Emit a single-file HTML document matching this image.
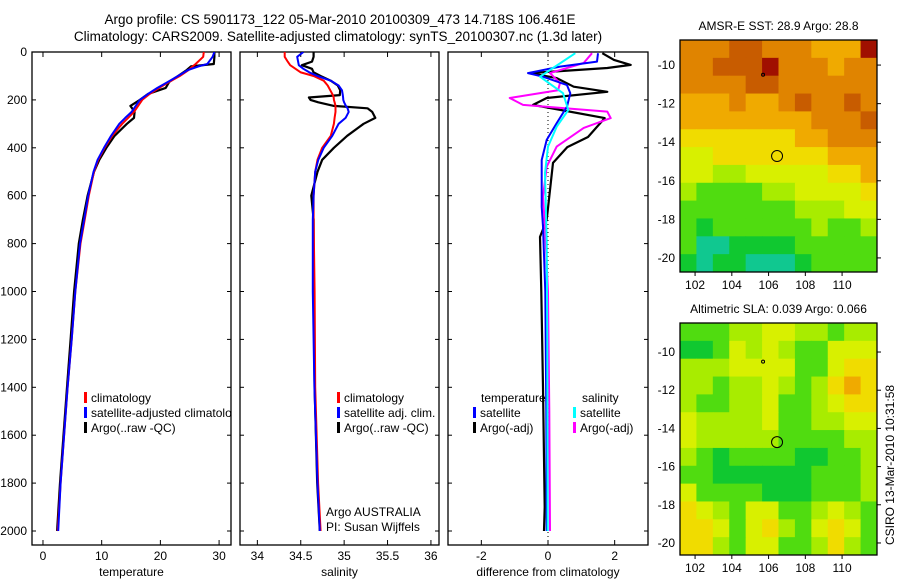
<!DOCTYPE html>
<html><head><meta charset="utf-8"><style>
body{margin:0;background:#fff}
svg{font-family:"Liberation Sans",sans-serif;font-size:12px}
</style></head><body>
<svg id="fig" width="900" height="580" xmlns="http://www.w3.org/2000/svg">
<rect width="900" height="580" fill="#fff"/>
<text x="340" y="24" text-anchor="middle" font-size="13.5">Argo profile: CS 5901173_122 05-Mar-2010 20100309_473 14.718S 106.461E</text>
<text x="338" y="41" text-anchor="middle" font-size="13.5">Climatology: CARS2009. Satellite-adjusted climatology: synTS_20100307.nc (1.3d later)</text>
<text transform="translate(894,465) rotate(-90)" text-anchor="middle" font-size="12">CSIRO 13-Mar-2010 10:31:58</text>
<g id="plots"></g>
</svg>
<script>
// ---------- profile data ----------
const tDepth=[0,20,50,60,75,100,125,150,175,200,225,250,275,300,350,400,450,500,600,700,800,1000,1200,1400,1600,1800,2000];
const tempClim=[27.4,27.3,26,25.5,24.8,23.3,21.5,19.8,18.2,16.9,16.2,15.5,14.5,13.5,11.8,10.5,9.4,8.7,7.8,7.1,6.4,5.5,4.9,4.2,3.6,3.0,2.5];
const tempSat=[29.2,28.9,28,26.5,24.7,23,21.3,19.5,17.9,16.5,15.8,15.1,14,13,11.6,10.4,9.3,8.6,7.7,7.0,6.3,5.5,4.9,4.2,3.6,3.0,2.6];
const tempArgo=[29.2,29.2,29.1,25.2,24.5,23,21.5,20.9,17.9,16.5,14.9,15.6,15.5,14.3,12.2,10.8,9.6,8.7,7.6,6.8,6.1,5.3,4.7,4.1,3.5,2.9,2.4];
const sDepth=[0,20,40,55,70,85,100,120,140,160,180,190,200,210,225,235,250,275,300,350,400,450,500,600,700,1000,1400,1800,2000];
const salClim=[34.315,34.315,34.35,34.378,34.44,34.5,34.648,34.765,34.81,34.84,34.87,34.88,34.882,34.89,34.9,34.9,34.9,34.89,34.882,34.846,34.747,34.693,34.666,34.648,34.648,34.66,34.666,34.70,34.729];
const salSat=[34.531,34.459,34.47,34.477,34.53,34.6,34.693,34.846,34.936,34.975,34.985,34.988,34.99,35.0,35.02,35.04,35.053,35.017,34.936,34.864,34.765,34.702,34.666,34.648,34.639,34.639,34.657,34.693,34.72];
const salArgo=[34.648,34.648,34.63,34.513,34.63,34.648,34.729,34.846,34.927,34.954,34.95,34.594,34.612,34.702,34.882,35.269,35.323,35.359,35.224,35.035,34.882,34.747,34.693,34.621,34.648,34.648,34.66,34.69,34.72];
const dDepthT=[5,33,54,67,88,109,145,166,192,221,234,276,355,397,463,576,701,772,1000,1400,1900,2000];
const diffTempArgo=[1.63,1.98,2.48,1.78,-0.55,0.26,0.77,1.78,-0.04,-0.45,0.06,1.7,1.2,0.58,0.15,0.06,-0.04,-0.24,-0.2,-0.15,-0.1,-0.12];
const dDepthTS=[5,40,61,88,103,138,172,228,297,367,451,646,729,1000,1500,2000];
const diffTempSat=[1.5,1.47,0.36,-0.6,-0.15,0.57,0.67,0.57,0.26,-0.04,-0.19,-0.19,-0.15,-0.08,-0.05,-0.04];
const dDepthS=[5,46,88,130,160,192,221,249,276,317,395,479,604,729,1000,1500,2000];
const diffSalArgo=[1.32,1.07,0.06,0.36,0.3,-1.15,-0.75,1.78,1.88,1.07,0.26,-0.04,-0.15,-0.09,0.0,0.04,0.06];
const dDepthSS=[5,75,103,172,242,312,395,506,785,1200,2000];
const diffSalSat=[0.82,0.06,-0.24,0.45,0.61,0.26,0,-0.09,-0.04,-0.02,-0.01];
// ---------- map data (colour class 0 teal .. 9 dark red) ----------
const lonRange=[101.18,111.9];
const sstTitle="AMSR-E SST: 28.9 Argo: 28.8";
const sstGrid=[
[7,7,7,8,8,7,7,7,6,6,6,9],
[7,7,8,8,8,9,7,7,7,6,7,7],
[7,7,7,7,8,8,7,7,7,7,7,7],
[6,6,6,7,6,6,7,8,7,7,8,7],
[6,6,6,6,6,6,6,6,7,7,7,8],
[5,5,5,5,5,5,5,6,6,7,7,7],
[4,4,5,5,5,5,5,5,5,6,6,6],
[4,4,3,3,4,4,4,4,4,5,5,6],
[3,2,2,2,2,3,3,4,4,4,4,5],
[2,2,2,2,2,2,2,3,3,3,4,4],
[2,1,2,2,2,2,2,2,3,2,2,3],
[2,0,0,1,1,1,1,2,2,2,2,2],
[1,0,1,1,0,0,0,1,2,2,2,2]];
const slaTitle="Altimetric SLA: 0.039 Argo: 0.066";
const slaGrid=[
[2,2,2,3,3,4,4,3,3,2,3,3],
[1,1,2,4,3,4,3,2,2,4,4,4],
[3,3,3,4,4,4,4,2,2,4,5,5],
[3,3,2,3,3,4,3,2,3,5,6,5],
[3,2,2,3,3,4,2,2,3,4,5,5],
[4,3,3,3,3,4,2,2,3,3,4,4],
[4,3,3,3,3,3,2,2,2,2,3,3],
[3,2,1,2,2,2,2,1,1,2,2,3],
[2,2,1,1,1,1,1,1,2,2,2,3],
[4,2,2,2,2,1,1,1,2,2,2,3],
[5,4,3,2,4,4,2,2,3,4,3,2],
[5,5,4,2,4,5,3,2,4,5,4,2],
[5,5,3,2,4,4,2,2,3,5,3,2]];
const argoLon=106.461, argoLat=-14.718;
const prevLon=105.7, prevLat=-10.5;
const palette=["#10c890","#10c830","#50dc10","#a8ec00","#d8f000","#f0dc00","#f0aa00","#e08400","#c85c00","#a01000"];

const NS="http://www.w3.org/2000/svg";
const root=document.getElementById('plots');
function mk(tag,attrs,parent){const e=document.createElementNS(NS,tag);for(const k in attrs)e.setAttribute(k,attrs[k]);(parent||root).appendChild(e);return e;}
function txt(x,y,s,anchor,parent){const t=mk('text',{x:x,y:y,'text-anchor':anchor||'start'},parent);t.textContent=s;return t;}

const top0=52, bot=545;
const yDepth=d=>top0+d*0.2395;
const depthTicks=[0,200,400,600,800,1000,1200,1400,1600,1800,2000];

function panel(name,x0,x1,xmin,xmax,xticks,xlabel,showY){
  const g=mk('g',{});
  
  
  const sx=v=>x0+(v-xmin)/(xmax-xmin)*(x1-x0);
  const clipId=name+'-clip';
  const cp=mk('clipPath',{id:clipId},g);mk('rect',{x:x0,y:top0,width:x1-x0,height:bot-top0},cp);
  mk('rect',{x:x0,y:top0,width:x1-x0,height:bot-top0,fill:'none',stroke:'#000','stroke-width':1.3},g);
  for(const d of depthTicks){const y=yDepth(d);
    mk('line',{x1:x0,y1:y,x2:x0+4,y2:y,stroke:'#000'},g);mk('line',{x1:x1-4,y1:y,x2:x1,y2:y,stroke:'#000'},g);
    if(showY){const t=txt(27,y+4,String(d),'end',g);}}
  for(const v of xticks){const x=sx(v);
    mk('line',{x1:x,y1:top0,x2:x,y2:top0+5,stroke:'#000'},g);mk('line',{x1:x,y1:bot-5,x2:x,y2:bot,stroke:'#000'},g);
    const t=txt(x,560,String(v),'middle',g);}
  const xl=txt((x0+x1)/2,576,xlabel,'middle',g);
  const inner=mk('g',{'clip-path':'url(#'+clipId+')'},g);
  return {g,sx,inner};
}
function line(p,depths,vals,color,w,name){
  const pts=depths.map((d,i)=>p.sx(vals[i]).toFixed(1)+','+yDepth(d).toFixed(1)).join(' ');
  const l=mk('polyline',{points:pts,fill:'none',stroke:color,'stroke-width':w,'stroke-linejoin':'round'},p.inner);
  
  
}
function legendEntry(g,x,y,color,label){
  if(color) mk('rect',{x:x,y:y-10,width:3,height:11,fill:color},g);
  const t=txt(x+(color?7:0),y,label,'start',g);
  
  
}

const p1=panel('temperature-panel',32,231,-1.87,32.03,[0,10,20,30],'temperature',true);
line(p1,tDepth,tempArgo,'#000',2.2,'temp-argo-line');
line(p1,tDepth,tempClim,'#f00',2,'temp-climatology-line');
line(p1,tDepth,tempSat,'#00f',2,'temp-satellite-line');
legendEntry(p1.inner,84,402,'#f00','climatology');
legendEntry(p1.inner,84,417,'#00f','satellite-adjusted climatology');
legendEntry(p1.inner,84,432,'#000','Argo(..raw -QC)');

const p2=panel('salinity-panel',240,439,33.8,36.093,[34,34.5,35,35.5,36],'salinity',false);
line(p2,sDepth,salArgo,'#000',2.2,'sal-argo-line');
line(p2,sDepth,salClim,'#f00',2,'sal-climatology-line');
line(p2,sDepth,salSat,'#00f',2,'sal-satellite-line');
legendEntry(p2.inner,337,402,'#f00','climatology');
legendEntry(p2.inner,337,417,'#00f','satellite adj. clim.');
legendEntry(p2.inner,337,432,'#000','Argo(..raw -QC)');
legendEntry(p2.inner,326,516,null,'Argo AUSTRALIA');
legendEntry(p2.inner,326,531,null,'PI: Susan Wijffels');

const p3=panel('difference-panel',448,648,-3.0,3.0,[-2,0,2],'difference from climatology',false);
mk('line',{x1:p3.sx(0),y1:top0,x2:p3.sx(0),y2:bot,stroke:'#000','stroke-dasharray':'1,3'},p3.inner);
line(p3,dDepthT,diffTempArgo,'#000',2.2,'diff-temp-argo-line');
line(p3,dDepthS,diffSalArgo,'#f0f',2,'diff-sal-argo-line');
line(p3,dDepthTS,diffTempSat,'#00f',2,'diff-temp-satellite-line');
line(p3,dDepthSS,diffSalSat,'#0ff',2,'diff-sal-satellite-line');
legendEntry(p3.inner,481,402,null,'temperature');
legendEntry(p3.inner,473,417,'#00f','satellite');
legendEntry(p3.inner,473,432,'#000','Argo(-adj)');
legendEntry(p3.inner,582,402,null,'salinity');
legendEntry(p3.inner,573,417,'#0ff','satellite');
legendEntry(p3.inner,573,432,'#f0f','Argo(-adj)');

function map(name,grid,title,x0,x1,y0,y1,latTop,latBot){
  const g=mk('g',{});
  
  
  const sx=lon=>x0+(lon-lonRange[0])/(lonRange[1]-lonRange[0])*(x1-x0);
  const sy=lat=>y0+(latTop-lat)/(latTop-latBot)*(y1-y0);
  const rows=grid.length, cols=grid[0].length;
  const dLon=(lonRange[1]-lonRange[0])/cols, dLat=(latTop-latBot)/rows;
  grid.forEach((row,r)=>row.forEach((v,c)=>{
    const xa=sx(lonRange[0]+c*dLon), xb=sx(lonRange[0]+(c+1)*dLon);
    const ya=sy(latTop-r*dLat), yb=sy(latTop-(r+1)*dLat);
    const cell=mk('rect',{x:xa,y:ya,width:xb-xa+0.5,height:yb-ya+0.5,fill:palette[v]},g);
    
    
  }));
  mk('rect',{x:x0,y:y0,width:x1-x0,height:y1-y0,fill:'none',stroke:'#000','stroke-width':1.3},g);
  for(let lat=-10;lat>=-20;lat-=2){const y=sy(lat);
    mk('line',{x1:x1,y1:y,x2:x1+4,y2:y,stroke:'#000'},g);
    const t=txt(x0-5,y+4,String(lat),'end',g);}
  for(let lon=102;lon<=110;lon+=2){const x=sx(lon);
    mk('line',{x1:x,y1:y1,x2:x,y2:y1+4,stroke:'#000'},g);
    const t=txt(x,y1+17,String(lon),'middle',g);}
  const tt=txt((x0+x1)/2,y0-10,title,'middle',g);
  const c=mk('circle',{cx:sx(argoLon),cy:sy(argoLat),r:5.5,fill:'none',stroke:'#000','stroke-width':1},g);
  
  
  const d=mk('circle',{cx:sx(prevLon),cy:sy(prevLat),r:1.5,fill:'none',stroke:'#000','stroke-width':1},g);
  
  
}
map('sst-map',sstGrid,sstTitle,680,877,40,272,-8.7,-20.73);
map('sla-map',slaGrid,slaTitle,680,877,323,555,-8.48,-20.63);
</script>
</body></html>
